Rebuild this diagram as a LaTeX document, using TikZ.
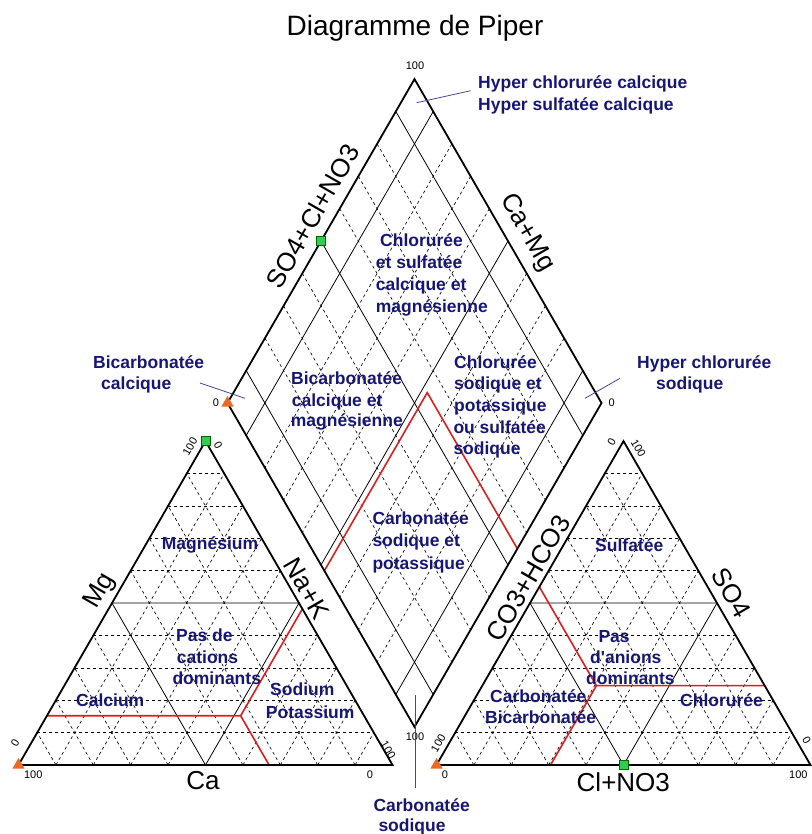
\documentclass[tikz,border=0pt]{standalone}
\usepackage{fontspec}
\setmainfont{Liberation Sans}[Ligatures=TeXOff]
\usetikzlibrary{calc,shapes.geometric}
\definecolor{navytxt}{RGB}{22,22,118}
\definecolor{redline}{RGB}{222,30,30}
\definecolor{leadercol}{RGB}{70,70,150}
\definecolor{mkgreen}{RGB}{50,205,80}
\definecolor{mkorange}{RGB}{235,105,35}
\begin{document}
\begin{tikzpicture}[x=1pt,y=-1pt,
  outline/.style={line width=1.8pt, line join=miter},
  gridsolid/.style={line width=0.8pt},
  griddash/.style={line width=0.65pt, dash pattern=on 3pt off 3pt},
  redl/.style={draw=redline, line width=1.6pt},
  region/.style={text=navytxt, font=\fontsize{17.5}{21}\selectfont\bfseries, inner sep=0pt, anchor=base west},
  axislab/.style={font=\fontsize{26}{26}\selectfont, inner sep=0pt},
  num/.style={font=\fontsize{11}{11}\selectfont, inner sep=0pt},
  leaderl/.style={draw=leadercol, line width=0.8pt},
  gmark/.style={draw=black!60!green, fill=mkgreen, minimum size=9pt, inner sep=0pt, line width=0.4pt},
  omark/.style={regular polygon, regular polygon sides=3, fill=mkorange, minimum size=14pt, inner sep=0pt}]
\useasboundingbox (0,0) rectangle (811,834);
% ---------- frame points
\coordinate (LA) at (18.5,765);  \coordinate (LB) at (392.5,765); \coordinate (LC) at (205.5,441.1);
\coordinate (RA) at (436.5,765); \coordinate (RB) at (810.5,765); \coordinate (RC) at (623.5,441.1);
\coordinate (DB) at (414.5,726.9); \coordinate (DL) at (227.5,403); \coordinate (DR) at (601.5,403); \coordinate (DT) at (414.5,79.1);
% ---------- triangle grids
\foreach \t in {0.1,0.2,0.3,0.4,0.6,0.7,0.8,0.9}{
  \foreach \A/\B/\C in {LA/LB/LC, RA/RB/RC}{
    \draw[griddash] ($(\A)!\t!(\C)$) -- ($(\B)!\t!(\C)$);
    \draw[griddash] ($(\A)!\t!(\B)$) -- ($(\A)!\t!(\C)$);
    \draw[griddash] ($(\B)!\t!(\A)$) -- ($(\B)!\t!(\C)$);
  }
}
\foreach \A/\B/\C in {LA/LB/LC, RA/RB/RC}{
  \draw[gridsolid] ($(\A)!0.5!(\C)$) -- ($(\B)!0.5!(\C)$) -- ($(\A)!0.5!(\B)$) -- cycle;
}
% ---------- diamond grid
\foreach \t in {0.2,0.3,0.4,0.6,0.7,0.8}{
  \draw[griddash] ($(DT)!\t!(DL)$) -- ($(DR)!\t!(DB)$);
  \draw[griddash] ($(DT)!\t!(DR)$) -- ($(DL)!\t!(DB)$);
}
\foreach \t in {0.1,0.5,0.9}{
  \draw[gridsolid] ($(DT)!\t!(DL)$) -- ($(DR)!\t!(DB)$);
  \draw[gridsolid] ($(DT)!\t!(DR)$) -- ($(DL)!\t!(DB)$);
}
% ---------- red lines
\coordinate (P1)  at (barycentric cs:LA=0.33,LB=0.518,LC=0.152);
\coordinate (P1l) at (barycentric cs:LA=0.848,LC=0.152);
\coordinate (P1b) at (barycentric cs:LA=0.33,LB=0.67);
\coordinate (P1r) at (barycentric cs:LB=0.518,LC=0.482);
\coordinate (Q1)  at (barycentric cs:DB=0.518,DL=0.482);
\coordinate (Qa)  at (barycentric cs:DT=0.032,DL=0.45,DR=0.518);
\coordinate (Q2)  at (barycentric cs:DB=0.45,DR=0.55);
\coordinate (P2)  at (barycentric cs:RA=0.45,RB=0.305,RC=0.245);
\coordinate (P2l) at (barycentric cs:RA=0.45,RC=0.55);
\coordinate (P2r) at (barycentric cs:RB=0.755,RC=0.245);
\coordinate (P2b) at (barycentric cs:RA=0.695,RB=0.305);
\draw[redl] (P1l) -- (P1) -- (P1r);
\draw[redl] (P1) -- (P1b);
\draw[redl] (Q1) -- (Qa) -- (Q2);
\draw[redl] (P2l) -- (P2) -- (P2r);
\draw[redl] (P2) -- (P2b);
% ---------- outlines
\draw[outline] (LA) -- (LB) -- (LC) -- cycle;
\draw[outline] (RA) -- (RB) -- (RC) -- cycle;
\draw[outline] (DB) -- (DR) -- (DT) -- (DL) -- cycle;
% ---------- title and axis labels
\node[font=\fontsize{28}{28}\selectfont, inner sep=0pt] (title) at (415,28) {Diagramme de Piper};
\node[axislab, rotate=60]  (ax1) at (312.5,216) {SO4+Cl+NO3};
\node[axislab, rotate=-60] (ax2) at (526.7,233) {Ca+Mg};
\node[axislab, rotate=60]  (ax3) at (100,591) {Mg};
\node[axislab, rotate=-60] (ax4) at (306.7,588.5) {Na+K};
\node[axislab] (ax5) at (203,781) {Ca};
\node[axislab, rotate=60]  (ax6) at (528.3,578) {CO3+HCO3};
\node[axislab, rotate=-60] (ax7) at (731.7,593) {SO4};
\node[axislab] (ax8) at (623.3,781.7) {Cl+NO3};
% ---------- scale numbers
\node[num] (n1) at (415,66) {100};
\node[num] (n2) at (216,403) {0};
\node[num] (n3) at (611.7,403) {0};
\node[num] (n4) at (415,737) {100};
\node[num, rotate=60]  (n5) at (190,446.7) {100};
\node[num, rotate=-60] (n6) at (218.3,445) {0};
\node[num, rotate=60]  (n7) at (15,743) {0};
\node[num] (n8) at (33.3,775) {100};
\node[num] (n9) at (370,775) {0};
\node[num, rotate=-60] (n10) at (388.3,750) {100};
\node[num, rotate=60]  (n11) at (611.7,441.7) {0};
\node[num, rotate=-60] (n12) at (638.3,448.3) {100};
\node[num, rotate=60]  (n13) at (438.3,743.3) {100};
\node[num] (n14) at (445,775) {0};
\node[num] (n15) at (798.3,775) {100};
\node[num, rotate=-60] (n16) at (806.7,740) {0};
% ---------- region labels (diamond)
\node[region] (t1)  at (478,89)  {Hyper chlorurée calcique};
\node[region] (t2)  at (478,110.5) {Hyper sulfatée calcique};
\node[region] (t3)  at (380,246) {Chlorurée};
\node[region] (t4)  at (375.7,268) {et sulfatée};
\node[region] (t5)  at (375.7,290.5) {calcique et};
\node[region] (t6)  at (375.7,312) {magnésienne};
\node[region] (t7)  at (291,384.5) {Bicarbonatée};
\node[region] (t8)  at (291.7,406) {calcique et};
\node[region] (t9)  at (290.7,426) {magnésienne};
\node[region] (t10) at (454,368) {Chlorurée};
\node[region] (t11) at (454,389.5) {sodique et};
\node[region] (t12) at (454,411) {potassique};
\node[region] (t13) at (453.3,433) {ou sulfatée};
\node[region] (t14) at (453.3,454.5) {sodique};
\node[region] (t15) at (372.3,524.5) {Carbonatée};
\node[region] (t16) at (372.3,546) {sodique et};
\node[region] (t17) at (372.3,569.5) {potassique};
\node[region] (t18) at (93,368) {Bicarbonatée};
\node[region] (t19) at (101,389) {calcique};
\node[region] (t20) at (637,368) {Hyper chlorurée};
\node[region] (t21) at (656,389) {sodique};
\node[region] (t22) at (373.3,811) {Carbonatée};
\node[region] (t23) at (378.3,831) {sodique};
% ---------- region labels (left triangle)
\node[region] (c1) at (161.7,549.5) {Magnésium};
\node[region] (c2) at (176,641) {Pas de};
\node[region] (c3) at (176.7,663) {cations};
\node[region] (c4) at (172.3,684.5) {dominants};
\node[region] (c5) at (76,706) {Calcium};
\node[region] (c6) at (270,695.5) {Sodium};
\node[region] (c7) at (265.7,718) {Potassium};
% ---------- region labels (right triangle)
\node[region] (a1) at (595,551) {Sulfatée};
\node[region] (a2) at (598.3,642) {Pas};
\node[region] (a3) at (590,663) {d'anions};
\node[region] (a4) at (586,684.5) {dominants};
\node[region] (a5) at (490,702) {Carbonatée};
\node[region] (a6) at (485,723.5) {Bicarbonatée};
\node[region] (a7) at (680,706) {Chlorurée};
% ---------- leader lines
\coordinate (lt1) at (470.7,90.7); \coordinate (lt2) at (416.7,102.7);
\coordinate (ll1) at (200,383);   \coordinate (ll2) at (245,398.3);
\coordinate (lr1) at (620,378.3); \coordinate (lr2) at (585,398.3);
\coordinate (lb1) at (415.7,695); \coordinate (lb2) at (415.7,788.3);
\draw[leaderl] (lt1) -- (lt2);
\draw[leaderl] (ll1) -- (ll2);
\draw[leaderl] (lr1) -- (lr2);
\draw[leaderl] (lb1) -- (lb2);
% ---------- sample markers
\node[gmark] (g1) at (LC) {};
\node[gmark] (g2) at ($(DT)!0.5!(DL)$) {};
\node[gmark] (g3) at ($(RA)!0.5!(RB)$) {};
\node[omark] (o1) at (LA) {};
\node[omark] (o2) at (DL) {};
\node[omark] (o3) at (RA) {};
\end{tikzpicture}
\end{document}
